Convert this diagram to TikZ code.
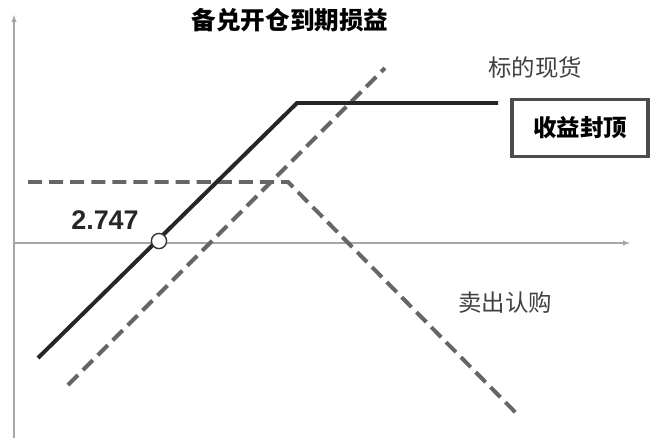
\documentclass[tikz,border=0pt]{standalone}
\usepackage{fontspec}
\setmainfont{Liberation Sans}
\newfontfamily\cjk{Noto Sans CJK SC}
\begin{document}
\begin{tikzpicture}[x=0.03cm,y=-0.03cm]
        \tikzstyle{axis}=[draw=gray!70, line width=1pt, -latex]
        \tikzstyle{payoff}=[line width=3.4pt, black!85]
        \tikzstyle{dashpay}=[line width=3.4pt, gray!80!black, dash pattern=on 12pt off 6pt]
        \tikzstyle{lbl}=[font=\cjk\fontsize{20}{24}\selectfont, text=black!75]
        \useasboundingbox (0,0) rectangle (660,443);
        % axes
        \coordinate (o) at (14,243);
        \coordinate (xend) at (630,243);
        \coordinate (ytop) at (14,15);
        \coordinate (ybot) at (14,438);
        \draw [axis] (o) -- (xend);
        \draw [axis] (ybot) -- (ytop);
        % payoff lines
        \coordinate (s0) at (68,385);
        \coordinate (s1) at (385,68);
        \draw [dashpay] (s0) -- (s1);
        \coordinate (c0) at (28,182);
        \coordinate (c1) at (288,182);
        \coordinate (c2) at (518,415);
        \draw [dashpay] (c0) -- (c1) -- (c2);
        \coordinate (p0) at (38,358);
        \coordinate (p1) at (297,103);
        \coordinate (p2) at (498,103);
        \draw [payoff] (p0) -- (p1) -- (p2);
        \node [circle, draw=black!80, fill=white, line width=1.2pt, minimum size=13pt, inner sep=0pt] (be) at (159,241) {};
        % labels
        \node [font=\cjk\bfseries\fontsize{21}{24}\selectfont] (title) at (290,20) {备兑开仓到期损益};
        \node [lbl] (spot) at (535,68) {标的现货};
        \node [lbl] (call) at (505,303) {卖出认购};
        \node [font=\bfseries\fontsize{23}{26}\selectfont, text=black!85] (val) at (105,220) {2.747};
        \node [draw=gray!60!black, line width=3pt, font=\cjk\bfseries\fontsize{20}{24}\selectfont,
               minimum width=4.08cm, minimum height=1.71cm] (cap) at (580,128) {收益封顶};
\end{tikzpicture}
\end{document}
